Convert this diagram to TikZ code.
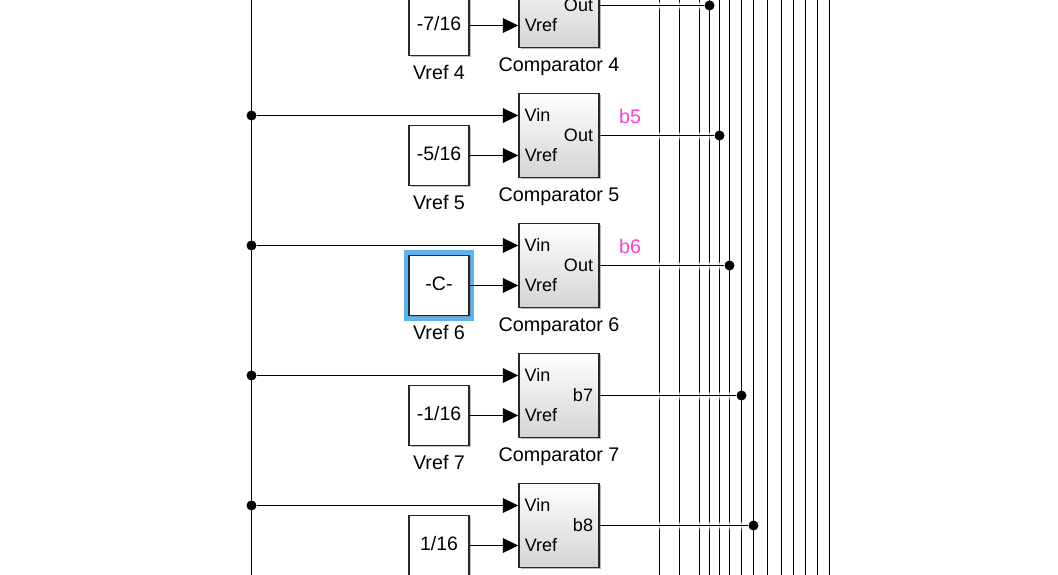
\documentclass[tikz,border=0pt]{standalone}
\usepackage{fontspec}
\setmainfont{Liberation Sans}
\usepackage{xcolor}
\usetikzlibrary{arrows.meta, shadows}
\definecolor{signalpink}{RGB}{255,64,214}
\definecolor{selectblue}{RGB}{90,180,240}
\definecolor{blockedge}{RGB}{40,40,40}

\begin{document}
\begin{tikzpicture}[
    x=0.75pt, y=-0.75pt,
    comparator/.style={rectangle, draw=blockedge, line width=1.15pt, top color=white, bottom color=black!17, minimum width=60pt, minimum height=63pt, inner sep=0pt, drop shadow={shadow xshift=1.4pt, shadow yshift=-1.4pt, opacity=0.55}},
    constant/.style={rectangle, draw=blockedge, fill=white, line width=1.15pt, minimum width=45pt, minimum height=45pt, inner sep=0pt, text height=10.5pt, text depth=3pt, font=\fontsize{14.6}{16}\selectfont, drop shadow={shadow xshift=1.2pt, shadow yshift=-1.2pt, opacity=0.5}},
    selbox/.style={rectangle, draw=selectblue, fill=white, line width=3.4pt, minimum width=49.5pt, minimum height=49.5pt, inner sep=0pt},
    portlabel/.style={inner sep=0pt, anchor=base, font=\fontsize{13.5}{15}\selectfont},
    caption/.style={inner sep=0pt, anchor=base, font=\fontsize{14.8}{17}\selectfont},
    signal/.style={inner sep=0pt, anchor=base, text=signalpink, font=\fontsize{14.8}{17}\selectfont},
    junction/.style={circle, fill=black, minimum size=7.5pt, inner sep=0pt},
    wire/.style={line width=0.9pt},
    arrow/.style={wire, -{Triangle[length=11.5pt, width=11pt]}},
    hopwire/.style={wire, preaction={draw=white, line width=6pt, opacity=0.35}, preaction={draw=white, line width=3.5pt, opacity=0.6}}
]
    \clip (0, -0.5) rectangle (1058, 574.5);

    % Input bus
    \coordinate (bustop) at (251.5, -1);
    \coordinate (busbot) at (251.5, 575);
    \draw[wire] (bustop) -- (busbot);

    % Output lines
    \coordinate (l1t) at (659.5, -1);   \coordinate (l1b) at (659.5, 575);
    \coordinate (l2t) at (679.5, -1);   \coordinate (l2b) at (679.5, 575);
    \coordinate (l3t) at (699.5, -1);   \coordinate (l3b) at (699.5, 575);
    \coordinate (l4t) at (709.5, -1);   \coordinate (l4b) at (709.5, 575);
    \coordinate (l5t) at (719.5, -1);   \coordinate (l5b) at (719.5, 575);
    \coordinate (l6t) at (729.5, -1);   \coordinate (l6b) at (729.5, 575);
    \coordinate (l7t) at (741.5, -1);   \coordinate (l7b) at (741.5, 575);
    \coordinate (l8t) at (753.5, -1);   \coordinate (l8b) at (753.5, 575);
    \coordinate (l9t) at (767.5, -1);   \coordinate (l9b) at (767.5, 575);
    \coordinate (l10t) at (781.5, -1);  \coordinate (l10b) at (781.5, 575);
    \coordinate (l11t) at (793.5, -1);  \coordinate (l11b) at (793.5, 575);
    \coordinate (l12t) at (805.5, -1);  \coordinate (l12b) at (805.5, 575);
    \coordinate (l13t) at (817.5, -1);  \coordinate (l13b) at (817.5, 575);
    \coordinate (l14t) at (829.5, -1);  \coordinate (l14b) at (829.5, 575);
    \draw[wire] (l1t) -- (l1b);
    \draw[wire] (l2t) -- (l2b);
    \draw[wire] (l3t) -- (l3b);
    \draw[wire] (l4t) -- (l4b);
    \draw[wire] (l5t) -- (l5b);
    \draw[wire] (l6t) -- (l6b);
    \draw[wire] (l7t) -- (l7b);
    \draw[wire] (l8t) -- (l8b);
    \draw[wire] (l9t) -- (l9b);
    \draw[wire] (l10t) -- (l10b);
    \draw[wire] (l11t) -- (l11b);
    \draw[wire] (l12t) -- (l12b);
    \draw[wire] (l13t) -- (l13b);
    \draw[wire] (l14t) -- (l14b);

    % Junctions
    \node[junction] (in5) at (251.5, 115) {};
    \node[junction] (in6) at (251.5, 245) {};
    \node[junction] (in7) at (251.5, 375) {};
    \node[junction] (in8) at (251.5, 505) {};
    \node[junction] (out4) at (709.5, 5) {};
    \node[junction] (out5) at (719.5, 135) {};
    \node[junction] (out6) at (729.5, 265) {};
    \node[junction] (out7) at (741.5, 395) {};
    \node[junction] (out8) at (753.5, 525) {};

    % Output wires, drawn before the blocks
    \coordinate (start4) at (599, 5);
    \coordinate (start5) at (599, 135);
    \coordinate (start6) at (599, 265);
    \coordinate (start7) at (599, 395);
    \coordinate (start8) at (599, 525);
    \draw[hopwire] (start4) -- (out4);
    \draw[hopwire] (start5) -- (out5);
    \draw[hopwire] (start6) -- (out6);
    \draw[hopwire] (start7) -- (out7);
    \draw[hopwire] (start8) -- (out8);

    % Comparator 4
    \node[constant] (vref4) at (439, 25) {-7/16};
    \node[comparator] (comp4) at (559, 5) {};
    \node[portlabel] (comp4ref) at (541, 31) {Vref};
    \node[portlabel] (comp4out) at (578.5, 11) {Out};
    \node[caption] (vref4name) at (439, 79) {Vref 4};
    \node[caption] (comp4name) at (559, 71) {Comparator 4};
    \draw[arrow] (vref4.east) -- (vref4.east -| comp4.west);

    % Comparator 5
    \node[constant] (vref5) at (439, 155) {-5/16};
    \node[comparator] (comp5) at (559, 135) {};
    \node[portlabel] (comp5in) at (537.5, 121) {Vin};
    \node[portlabel] (comp5ref) at (541, 161) {Vref};
    \node[portlabel] (comp5out) at (578.5, 141) {Out};
    \node[caption] (vref5name) at (439, 209) {Vref 5};
    \node[caption] (comp5name) at (559, 201) {Comparator 5};
    \node[signal] (b5) at (630, 123) {b5};
    \draw[arrow] (in5) -- (in5 -| comp5.west);
    \draw[arrow] (vref5.east) -- (vref5.east -| comp5.west);

    % Comparator 6
    \node[selbox] (sel6) at (439, 285) {};
    \node[constant] (vref6) at (439, 285) {-C-};
    \node[comparator] (comp6) at (559, 265) {};
    \node[portlabel] (comp6in) at (537.5, 251) {Vin};
    \node[portlabel] (comp6ref) at (541, 291) {Vref};
    \node[portlabel] (comp6out) at (578.5, 271) {Out};
    \node[caption] (vref6name) at (439, 339) {Vref 6};
    \node[caption] (comp6name) at (559, 331) {Comparator 6};
    \node[signal] (b6) at (630, 253) {b6};
    \draw[arrow] (in6) -- (in6 -| comp6.west);
    \draw[arrow] (vref6.east) -- (vref6.east -| comp6.west);

    % Comparator 7
    \node[constant] (vref7) at (439, 415) {-1/16};
    \node[comparator] (comp7) at (559, 395) {};
    \node[portlabel] (comp7in) at (537.5, 381) {Vin};
    \node[portlabel] (comp7ref) at (541, 421) {Vref};
    \node[portlabel] (comp7out) at (583, 401) {b7};
    \node[caption] (vref7name) at (439, 469) {Vref 7};
    \node[caption] (comp7name) at (559, 461) {Comparator 7};
    \draw[arrow] (in7) -- (in7 -| comp7.west);
    \draw[arrow] (vref7.east) -- (vref7.east -| comp7.west);

    % Comparator 8
    \node[constant] (vref8) at (439, 545) {1/16};
    \node[comparator] (comp8) at (559, 525) {};
    \node[portlabel] (comp8in) at (537.5, 511) {Vin};
    \node[portlabel] (comp8ref) at (541, 551) {Vref};
    \node[portlabel] (comp8out) at (583, 531) {b8};
    \draw[arrow] (in8) -- (in8 -| comp8.west);
    \draw[arrow] (vref8.east) -- (vref8.east -| comp8.west);
\end{tikzpicture}
\end{document}
